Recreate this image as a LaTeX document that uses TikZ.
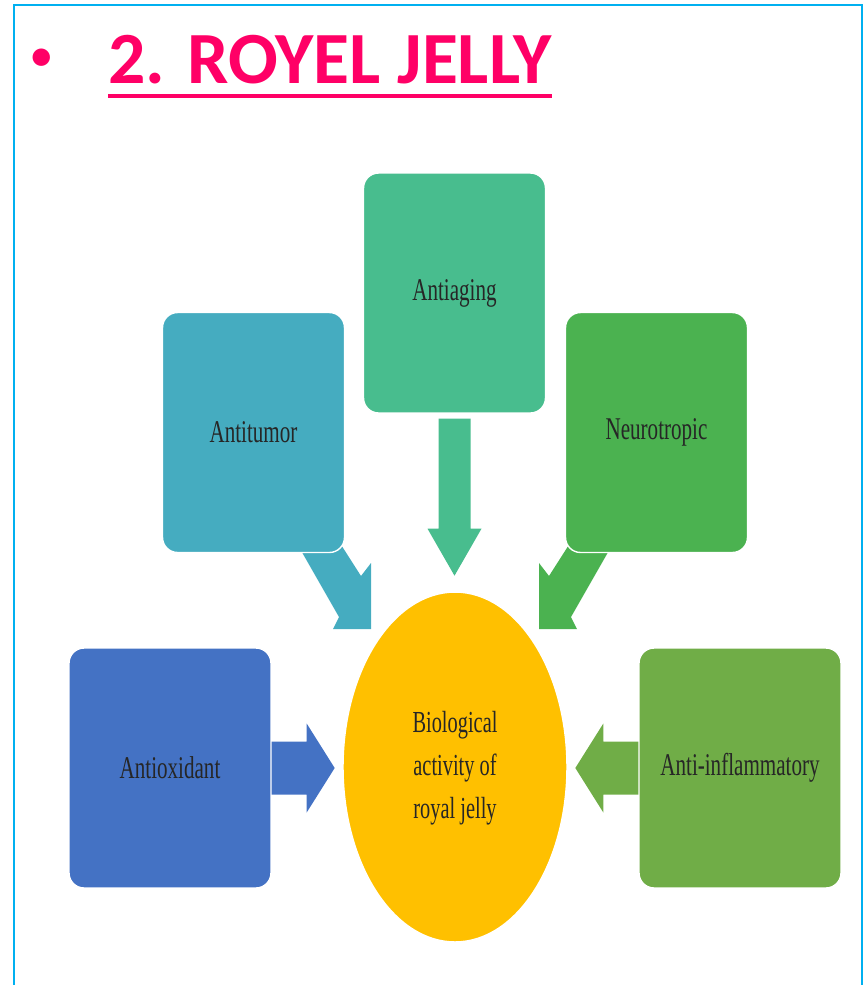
\documentclass[tikz,border=0pt]{standalone}
\usepackage{fontspec}
\setmainfont{Liberation Serif}
\newfontfamily\slidefont{Carlito}
\usepackage{graphicx}
\usetikzlibrary{shapes.geometric, calc, positioning}

\definecolor{titlepink}{RGB}{255,0,102}
\definecolor{frameblue}{RGB}{0,176,240}
\definecolor{agingc}{RGB}{72,189,142}
\definecolor{tumorc}{RGB}{69,172,192}
\definecolor{neuroc}{RGB}{75,178,80}
\definecolor{oxidc}{RGB}{68,114,196}
\definecolor{inflamc}{RGB}{112,173,71}
\definecolor{bioc}{RGB}{255,192,0}

\newcommand{\talltext}[1]{\scalebox{1}[1.5]{#1}}

\tikzset{
  box/.style={rectangle, rounded corners=0.3cm, draw=white, line width=0.8pt, inner sep=0pt,
    minimum width=3.64cm, minimum height=4.8cm, text=black!85, font=\fontsize{12}{16.3}\selectfont},
  widebox/.style={box, minimum width=4.04cm},
  bionode/.style={ellipse, fill=bioc, draw=white, line width=0.8pt, inner sep=0pt,
    minimum width=4.48cm, minimum height=7cm, text=black!85, font=\fontsize{11.6}{16.3}\selectfont}
}

\begin{document}
\begin{tikzpicture}[x=0.02cm, y=-0.02cm]
    \useasboundingbox (0,0) rectangle (864,985);

    % frame and title
    \draw[frameblue, line width=0.04cm] (14,985) -- (14,5) -- (862,5) -- (862,985);
    \node[text=titlepink, font=\slidefont\fontsize{28}{32}\selectfont] (dot) at (42,60) {•};
    \node[anchor=base west, inner sep=0pt, text=titlepink, font=\slidefont\bfseries\fontsize{41.9}{50}\selectfont] (head) at (108,83) {2. ROYEL JELLY};
    \draw[titlepink, line width=0.08cm] ($(head.base west)+(0,12.5)$) -- ($(head.base east)+(0,12.5)$);

    % diagonal arrows (under the boxes)
    \coordinate (tipL) at (371,629);
    \coordinate (tipR) at (539,629);
    \fill[tumorc] (tipL) -- ++(-38,0) -- ++(6,-12) -- ++(-44,-77) -- ++(43,0) -- ++(23,36) -- ++(10,-13) -- cycle;
    \fill[neuroc] (tipR) -- ++(38,0) -- ++(-6,-12) -- ++(44,-77) -- ++(-43,0) -- ++(-23,36) -- ++(-10,-13) -- cycle;

    % boxes
    \node[box, fill=agingc] (aging) at (454.5,293) {\talltext{Antiaging}};
    \node[box, fill=tumorc] (tumor) at (253.5,432.5) {\talltext{Antitumor}};
    \node[box, fill=neuroc] (neuro) at (656.5,432.5) {\talltext{Neurotropic}};
    \node[widebox, fill=oxidc] (oxid) at (170,768) {\talltext{Antioxidant}};
    \node[widebox, fill=inflamc] (inflam) at (740,768) {\talltext{Anti-inflammatory}};
    \node[bionode] (bio) at (455,767) {\talltext{\begin{tabular}{@{}c@{}}Biological\\activity of\\royal jelly\end{tabular}}};

    % straight arrows
    \fill[agingc] ($(aging.south)+(-16,5)$) -- ++(32,0) -- ++(0,110) -- ++(11,0) -- ++(-27,47) -- ++(-27,-47) -- ++(11,0) -- cycle;
    \fill[oxidc] ($(oxid.east)+(0,-26.5)$) -- ++(35,0) -- ++(0,-18) -- ++(28,44.5) -- ++(-28,44.5) -- ++(0,-18) -- ++(-35,0) -- cycle;
    \fill[inflamc] ($(inflam.west)+(0,-26.5)$) -- ++(-35,0) -- ++(0,-18) -- ++(-28,44.5) -- ++(28,44.5) -- ++(0,-18) -- ++(35,0) -- cycle;

\end{tikzpicture}
\end{document}
